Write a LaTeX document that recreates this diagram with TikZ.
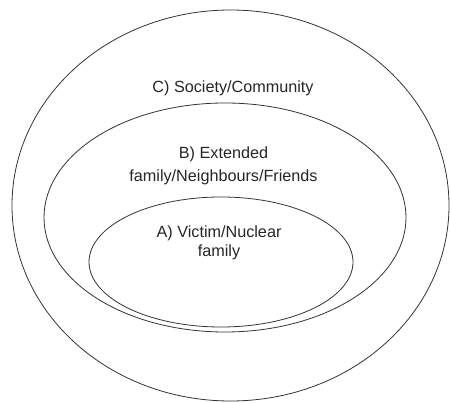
\documentclass[tikz,border=0pt]{standalone}
\usepackage{fontspec}
\setmainfont{Liberation Sans}
\usetikzlibrary{shapes.geometric}
\begin{document}
\begin{tikzpicture}[x=1pt,y=-1pt,
  ring/.style={draw=black!80,line width=0.8pt,ellipse,inner sep=0pt,outer sep=0pt},
  lbl/.style={align=center,text=black!85,inner sep=0pt,anchor=base}]
\useasboundingbox (0,0) rectangle (450,403);
\node[ring,minimum width=437pt,minimum height=391pt] (outer) at (230.5,205.5) {};
\node[ring,minimum width=362pt,minimum height=229pt] (middle) at (225,217.5) {};
\node[ring,minimum width=264pt,minimum height=130pt] (inner) at (221,262) {};
\node[lbl,font=\fontsize{16.2}{22}\selectfont] (c) at (233,92.5) {C) Society/Community};
\node[lbl,font=\fontsize{16.2}{22.7}\selectfont] (b) at (223.5,181.2) {B) Extended\\family/Neighbours/Friends};
\node[lbl,font=\fontsize{16.2}{19.2}\selectfont] (a) at (219,256.7) {A) Victim/Nuclear\\family};
\end{tikzpicture}
\end{document}
